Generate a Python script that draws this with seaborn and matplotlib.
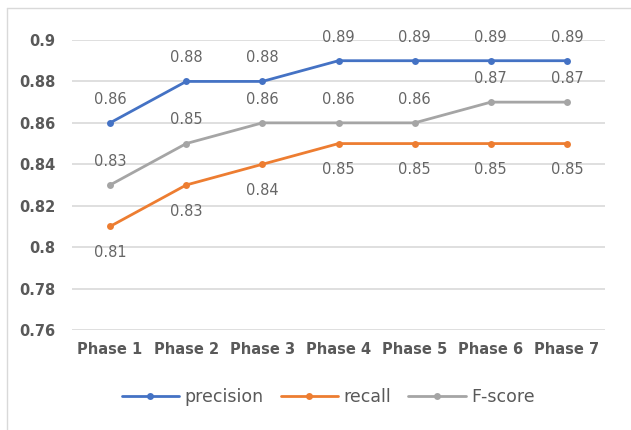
import pandas as pd
import matplotlib
matplotlib.use("Agg")
import matplotlib.pyplot as plt
import seaborn as sns
from matplotlib.lines import Line2D

# -----------------------------
# Data
# -----------------------------
phases = ["Phase 1", "Phase 2", "Phase 3", "Phase 4", "Phase 5", "Phase 6", "Phase 7"]
precision = [0.86, 0.88, 0.88, 0.89, 0.89, 0.89, 0.89]
recall = [0.81, 0.83, 0.84, 0.85, 0.85, 0.85, 0.85]
f_score = [0.83, 0.85, 0.86, 0.86, 0.86, 0.87, 0.87]

series = ["precision", "recall", "F-score"]
colors = ["#4472C4", "#ED7D31", "#A5A5A5"]

df = pd.DataFrame({"Phase": phases, "precision": precision,
                   "recall": recall, "F-score": f_score})
long_df = df.melt(id_vars="Phase", var_name="Metric", value_name="Score")

sns.set_style("white")
plt.rcParams['font.family'] = ['DejaVu Sans']

fig = plt.figure(figsize=(6.31, 4.30), dpi=100)
ax = fig.add_axes([72 / 631, 100 / 430, 533 / 631, 290 / 430])

sns.lineplot(data=long_df, x="Phase", y="Score", hue="Metric",
             hue_order=series, palette=colors, marker="o", markersize=5,
             markeredgewidth=0, linewidth=2, sort=False, ax=ax, legend=False)

ax.set_xlim(-0.5, 6.5)
ax.set_ylim(0.76, 0.9)
ax.set_yticks([0.76, 0.78, 0.8, 0.82, 0.84, 0.86, 0.88, 0.9])
ax.set_yticklabels(["0.76", "0.78", "0.8", "0.82", "0.84", "0.86", "0.88", "0.9"])
ax.grid(axis="y", color="#D9D9D9", linewidth=1.2)
ax.set_axisbelow(True)
for s in ax.spines.values():
    s.set_visible(False)
ax.tick_params(length=0, labelsize=10.5, labelcolor="#595959", pad=12)
ax.tick_params(axis="x", pad=9)
for lbl in ax.get_xticklabels() + ax.get_yticklabels():
    lbl.set_fontweight("bold")
ax.set_xlabel("")
ax.set_ylabel("")

# data labels
offsets = {"precision": 17, "recall": -19, "F-score": 17}
for name, vals in zip(series, [precision, recall, f_score]):
    for i, v in enumerate(vals):
        ax.annotate(f"{v:.2f}", (i, v), xytext=(0, offsets[name]),
                    textcoords="offset points", ha="center", va="center",
                    fontsize=10.5, color="#666666")

# legend
handles = [Line2D([0], [0], color=c, linewidth=2, marker="o", markersize=5,
                  markeredgewidth=0) for c in colors]
fig.legend(handles, series, loc="center", bbox_to_anchor=(0.52, 33 / 430),
           ncol=3, frameon=False, fontsize=12.5, labelcolor="#595959",
           handlelength=3.3, columnspacing=1.0, handletextpad=0.3)

# chart frame (top and left edges)
fig.add_artist(Line2D([7 / 631, 7 / 631], [0, 422 / 430], color="#D9D9D9",
                      linewidth=1, transform=fig.transFigure))
fig.add_artist(Line2D([7 / 631, 1], [422 / 430, 422 / 430], color="#D9D9D9",
                      linewidth=1, transform=fig.transFigure))

plt.savefig("out.png", dpi=100)
